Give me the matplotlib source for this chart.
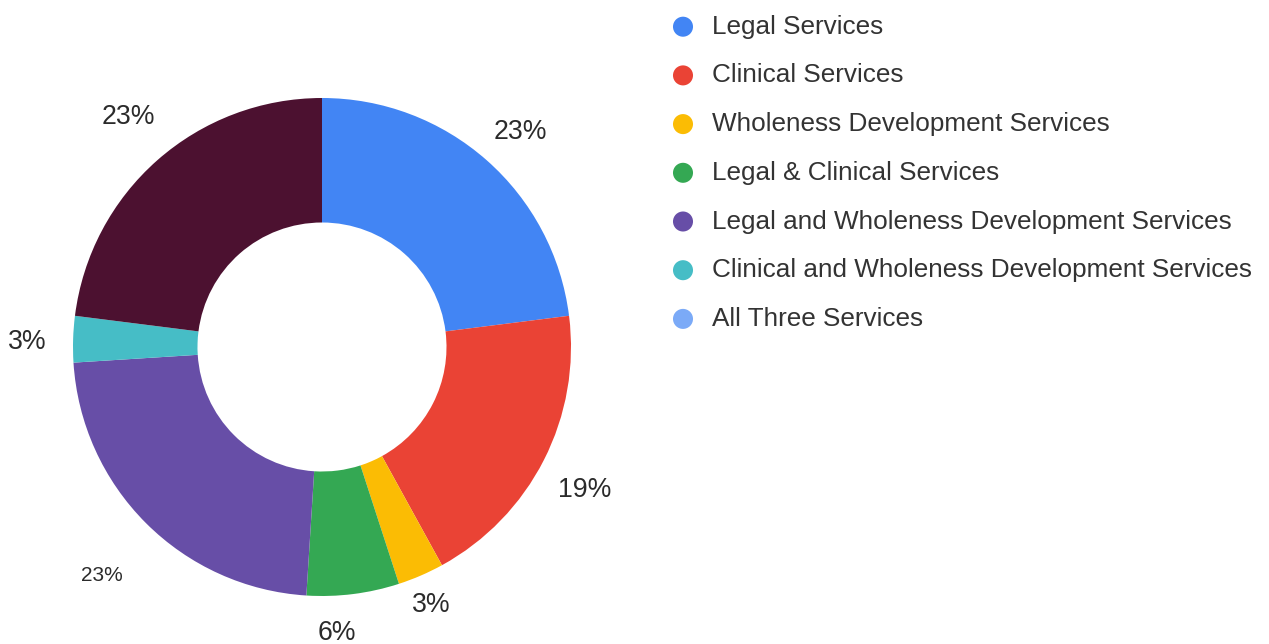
import numpy as np
import matplotlib
matplotlib.use("Agg")
import matplotlib.pyplot as plt

# Share of clients by service combination (percent)
categories = [
    "Legal Services",
    "Clinical Services",
    "Wholeness Development Services",
    "Legal & Clinical Services",
    "Legal and Wholeness Development Services",
    "Clinical and Wholeness Development Services",
    "All Three Services",
]
shares = [23, 19, 3, 6, 23, 3, 23]

slice_colors = ["#4285F4", "#EA4335", "#FBBC04", "#34A853", "#674EA7", "#46BDC6", "#4C1130"]
legend_colors = ["#4285F4", "#EA4335", "#FBBC04", "#34A853", "#674EA7", "#46BDC6", "#7BAAF7"]

plt.rcParams["font.family"] = ["Liberation Sans", "DejaVu Sans"]

W, H = 1269, 644
fig = plt.figure(figsize=(W / 100, H / 100), dpi=100)
ax = fig.add_axes([0, 0, 1, 1])

wedges, _ = ax.pie(
    shares,
    colors=slice_colors,
    startangle=90,
    counterclock=False,
    radius=1.0,
    wedgeprops=dict(width=0.5, linewidth=0),
)

# one data unit = outer radius in pixels; donut centre placement
R_PX, CX, CY = 249, 322, 347
ax.set_xlim(-CX / R_PX, (W - CX) / R_PX)
ax.set_ylim(-(H - CY) / R_PX, CY / R_PX)
ax.axis("off")

# percentage labels placed outside each slice
label_radius = [1.177, 1.20, 1.12, 1.145, 1.27, 1.185, 1.21]
label_nudge = [-1.1, -1.4, -0.4, -4.2, 1.0, 0.6, -1.4]
label_size = [19.2, 19.2, 19.2, 19.2, 15, 19.2, 19.2]
for w, v, r, dn, fs in zip(wedges, shares, label_radius, label_nudge, label_size):
    ang = np.deg2rad((w.theta1 + w.theta2) / 2 + dn)
    ax.text(r * np.cos(ang), r * np.sin(ang) - 0.004, f"{v}%", ha="center", va="center",
            fontsize=fs, color="#2b2b2b")

# legend: coloured dots with labels
leg_x_dot, leg_x_text, leg_y0, leg_dy = 683, 712, 26.7, 48.7
for i, (name, col) in enumerate(zip(categories, legend_colors)):
    y = leg_y0 + i * leg_dy
    ax.scatter([(leg_x_dot - CX) / R_PX], [(CY - y) / R_PX], s=20 ** 2 * 0.52,
               color=col, edgecolors="none", clip_on=False)
    ax.text((leg_x_text - CX) / R_PX, (CY - y) / R_PX, name, ha="left", va="center",
            fontsize=18.8, color="#333333")

fig.savefig("out.png", dpi=100, facecolor="white")
